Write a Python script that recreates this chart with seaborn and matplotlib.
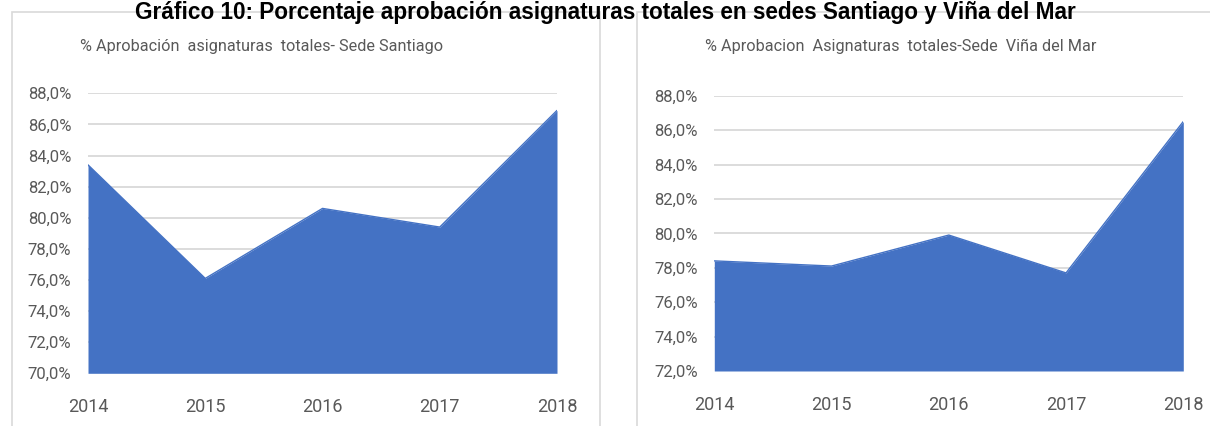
import matplotlib
matplotlib.use("Agg")
import matplotlib.pyplot as plt
from matplotlib.patches import Rectangle
from matplotlib.ticker import FuncFormatter, FixedLocator
import seaborn as sns
import pandas as pd

# Approval percentages per campus
years = [2014, 2015, 2016, 2017, 2018]
santiago = [83.4, 76.1, 80.6, 79.4, 86.9]
vina = [78.4, 78.1, 79.9, 77.7, 86.5]

titles = [
    "% Aprobación  asignaturas  totales- Sede Santiago",
    "% Aprobacion  Asignaturas  totales-Sede  Viña del Mar",
]
main_title = "Gráfico 10: Porcentaje aprobación asignaturas totales en sedes Santiago y Viña del Mar"
santiago_ticks = [70, 72, 74, 76, 78, 80, 82, 84, 86, 88]
vina_ticks = [72, 74, 76, 78, 80, 82, 84, 86, 88]

sns.set_theme(style="white")
plt.rcParams["font.family"] = ["Roboto", "Liberation Sans", "DejaVu Sans"]

W, H = 1210, 426
fig = plt.figure(figsize=(W / 100, H / 100), dpi=100)
fig.patch.set_facecolor("white")

FILL = "#4472C4"
GRID = "#d9d9d9"
TXT = "#595959"


def fx(px):
    return px / W


def fy(py):
    return 1 - py / H


# chart frames
for x0, x1 in [(12, 600), (637, 1216)]:
    fig.patches.append(Rectangle((fx(x0), fy(440)), fx(x1 - x0), (440 - 12) / H,
                                 transform=fig.transFigure, fill=False,
                                 edgecolor=GRID, linewidth=1.2, zorder=0))

panels = [
    dict(vals=santiago, ticks=santiago_ticks, ax_px=(88, 557, 93.3, 373.3),
         title=titles[0], tx=262),
    dict(vals=vina, ticks=vina_ticks, ax_px=(714.3, 1183.3, 95.7, 371),
         title=titles[1], tx=901),
]

fmt = FuncFormatter(lambda v, _: f"{v:.1f}%".replace(".", ","))

for p in panels:
    x0, x1, ytop, ybot = p["ax_px"]
    ax = fig.add_axes([fx(x0), fy(ybot), fx(x1 - x0), (ybot - ytop) / H])
    df = pd.DataFrame({"year": years, "value": p["vals"]})
    lo, hi = p["ticks"][0], p["ticks"][-1]
    for t in p["ticks"][1:]:
        ax.axhline(t, color=GRID, linewidth=1.3, zorder=0)
    ax.fill_between(df["year"], lo, df["value"], color=FILL, linewidth=0, zorder=2)
    sns.lineplot(data=df, x="year", y="value", ax=ax, color=FILL, linewidth=1.0, zorder=3)
    ax.set_xlim(years[0], years[-1])
    ax.set_ylim(lo, hi)
    ax.yaxis.set_major_locator(FixedLocator(p["ticks"]))
    ax.yaxis.set_major_formatter(fmt)
    ax.set_xticks(years)
    ax.set_xticklabels([str(y) for y in years])
    ax.set_xlabel("")
    ax.set_ylabel("")
    for s in ax.spines.values():
        s.set_visible(False)
    ax.tick_params(axis="y", length=0, pad=12, labelsize=12, labelcolor=TXT)
    ax.tick_params(axis="x", length=4, width=0.8, color=GRID, pad=14, labelsize=13, labelcolor=TXT)
    ax.set_facecolor("none")
    fig.text(fx(p["tx"]), fy(46), p["title"], ha="center", va="center",
             fontsize=11.7, color=TXT)

fig.text(0.5, fy(19), main_title, ha="center", va="baseline", fontsize=16.3,
         fontweight="bold", color="black", family=["Liberation Sans", "DejaVu Sans"])

fig.savefig("out.png", dpi=100, facecolor="white")
